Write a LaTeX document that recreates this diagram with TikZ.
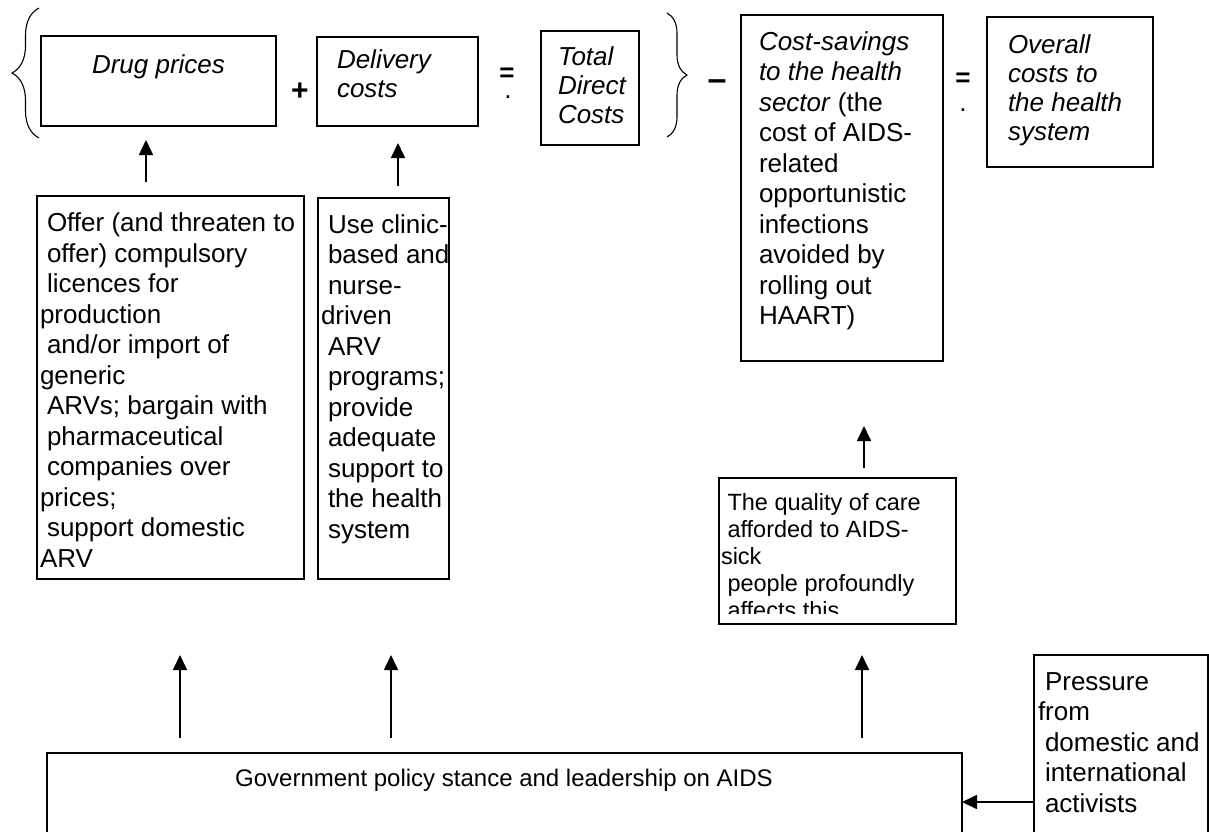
\documentclass[tikz,border=0pt]{standalone}
\usepackage{fontspec}
\setmainfont{Liberation Sans}
\usetikzlibrary{arrows.meta,decorations.pathreplacing,calc}
\newcommand\firstline{\rule{0pt}{20pt}}
\newcommand\lsp{\hspace*{7pt}}
\tikzset{
  boxnode/.style={draw, line width=1.7pt, inner sep=0pt, outer sep=0pt, anchor=north west},
  txt/.style={anchor=north west, inner sep=0pt, outer sep=0pt, align=left, font=\fontsize{26}{30.5}\selectfont},
  txttop/.style={anchor=north west, inner sep=0pt, outer sep=0pt, align=left, font=\fontsize{26}{29.3}\selectfont\itshape},
  txtsmall/.style={anchor=north west, inner sep=0pt, outer sep=0pt, align=left, font=\fontsize{23.5}{27}\selectfont},
  arr/.style={line width=1.7pt, -{Triangle[length=15pt,width=14pt]}},
  brc/.style={decorate, decoration={brace, amplitude=#1}, line width=1.1pt},
  op/.style={inner sep=0pt, outer sep=0pt, anchor=base},
}
\begin{document}
\begin{tikzpicture}[x=1pt,y=-1pt]
\useasboundingbox (0,0) rectangle (1209,831);

% top row boxes
\node[boxnode, minimum width=235pt, minimum height=90pt] (drug) at (41,36) {};
\node[txttop] (drugtxt) at (92,53) {\firstline Drug prices};

\node[boxnode, minimum width=161pt, minimum height=89pt] (deliv) at (317,37) {};
\node[txttop] (delivtxt) at (337,48) {\firstline Delivery\\costs};

\node[boxnode, minimum width=98pt, minimum height=114pt] (total) at (541,31) {};
\node[txttop] (totaltxt) at (558,45) {\firstline Total\\Direct\\Costs};

\node[boxnode, minimum width=202pt, minimum height=346pt] (cost) at (741,15) {};
\node[txt] (costtxt) at (759,30) {\firstline\textit{Cost-savings}\\\textit{to the health}\\\textit{sector} (the\\cost of AIDS-\\related\\opportunistic\\infections\\avoided by\\rolling out\\HAART)};

\node[boxnode, minimum width=166pt, minimum height=150pt] (overall) at (987,17) {};
\node[txttop] (overalltxt) at (1008,33) {\firstline Overall\\costs to\\the health\\system};

% operators and braces
\node[op, font=\bfseries\fontsize{30}{30}\selectfont] (plus) at (300,100) {+};
\node[op, font=\bfseries\fontsize{26}{26}\selectfont] (eqa) at (507,81) {=};
\node[op, font=\fontsize{26}{26}\selectfont] (dota) at (508,98) {.};
\node[op, font=\bfseries\fontsize{34}{34}\selectfont] (minus) at (717,90) {–};
\node[op, font=\bfseries\fontsize{26}{26}\selectfont] (eqb) at (963,86) {=};
\node[op, font=\fontsize{26}{26}\selectfont] (dotb) at (963,111) {.};
\draw[brc=27pt] (39,138) -- (39,8);
\draw[brc=20pt] (667,13) -- (667,137);

% middle boxes
\node[boxnode, minimum width=267pt, minimum height=383pt] (offer) at (37,196) {};
\node[txt] (offertxt) at (40,211.7) {\firstline\lsp Offer (and threaten to\\\lsp offer) compulsory\\\lsp licences for\\production\\\lsp and/or import of\\generic\\\lsp ARVs; bargain with\\\lsp pharmaceutical\\\lsp companies over\\prices;\\\lsp support domestic\\ARV};

\node[boxnode, minimum width=131pt, minimum height=381pt] (use) at (318,198) {};
\node[txt] (usetxt) at (321,213) {\firstline\lsp Use clinic-\\\lsp based and\\\lsp nurse-\\driven\\\lsp ARV\\\lsp programs;\\\lsp provide\\\lsp adequate\\\lsp support to\\\lsp the health\\\lsp system};

\node[boxnode, minimum width=237pt, minimum height=146pt] (quality) at (719,478) {};
\begin{scope}
\clip (719,478) rectangle (956,613);
\node[txtsmall] (qualitytxt) at (721,490) {\firstline\hspace*{6.5pt}The quality of care\\\hspace*{6.5pt}afforded to AIDS-\\sick\\\hspace*{6.5pt}people profoundly\\\hspace*{6.5pt}affects this};
\end{scope}

% bottom boxes
\node[boxnode, minimum width=915pt, minimum height=200pt] (gov) at (47,753) {};
\node[op, font=\fontsize{24}{24}\selectfont] (govtxt) at (504,786) {Government policy stance and leadership on AIDS};

\node[boxnode, minimum width=174pt, minimum height=250pt] (pressure) at (1034,655) {};
\node[txt] (pressuretxt) at (1038,670) {\firstline\lsp Pressure\\from\\\lsp domestic and\\\lsp international\\\lsp activists};

% arrows
\draw[arr, shorten <=14pt, shorten >=14pt] ([xshift=109pt]offer.north west) -- ([xshift=109pt]offer.north west |- drug.south);
\draw[arr, shorten <=12pt, shorten >=17pt] ([xshift=80pt]use.north west) -- ([xshift=80pt]use.north west |- deliv.south);
\draw[arr, shorten <=10pt, shorten >=65pt] ([xshift=145pt]quality.north west) -- ([xshift=145pt]quality.north west |- cost.south);
\draw[arr, shorten <=15pt, shorten >=76pt] ([xshift=133pt]gov.north west) -- ([xshift=133pt]gov.north west |- offer.south);
\draw[arr, shorten <=15pt, shorten >=76pt] ([xshift=344pt]gov.north west) -- ([xshift=344pt]gov.north west |- use.south);
\draw[arr, shorten <=15pt, shorten >=31pt] ([xshift=815pt]gov.north west) -- ([xshift=815pt]gov.north west |- quality.south);
\draw[arr] ([yshift=-147pt]pressure.north west) coordinate (pa) -- (pa -| gov.east);
\end{tikzpicture}
\end{document}
